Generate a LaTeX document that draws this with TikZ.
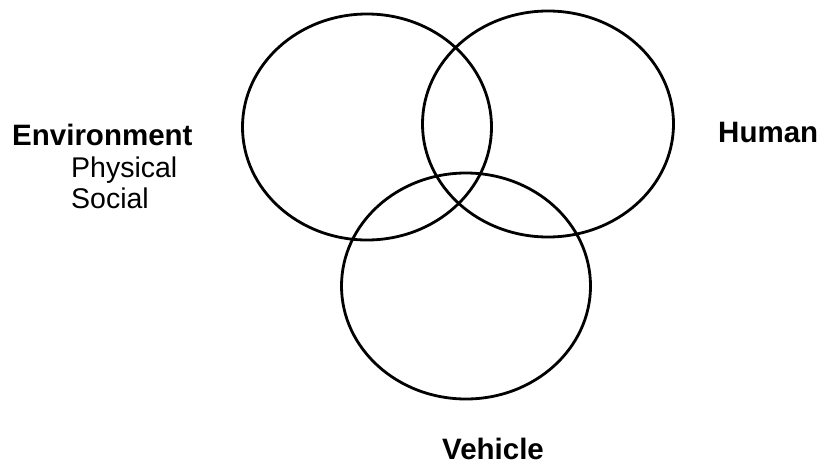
\documentclass[tikz,border=0pt]{standalone}
\usepackage{fontspec}
\setmainfont{Liberation Sans}
\usetikzlibrary{shapes.geometric}

\tikzstyle{area} = [
ellipse,
draw=black,
line width=2.8pt,
minimum width=249pt,
minimum height=226pt,
inner sep=0pt
]
\tikzstyle{title} = [
anchor=base west,
inner sep=0pt,
font=\fontsize{29.5}{32}\selectfont\bfseries
]
\tikzstyle{item} = [
anchor=base west,
inner sep=0pt,
font=\fontsize{28.5}{32}\selectfont
]

\begin{document}
\begin{tikzpicture}[
x=1pt,
y=-1pt
]

\useasboundingbox (0,0) rectangle (819,466);

\node (environment) [area] at (367,127) {};

\node (human) [area, minimum width=251pt] at (548,124) {};

\node (vehicle) [area] at (466,286) {};

\node (envlabel) [title] at (12,145) {Environment};

\node (physical) [item] at (71,177) {Physical};

\node (social) [item] at (71,208) {Social};

\node (humanlabel) [title] at (718,142) {Human};

\node (vehiclelabel) [title] at (442,459) {Vehicle};

\end{tikzpicture}
\end{document}
